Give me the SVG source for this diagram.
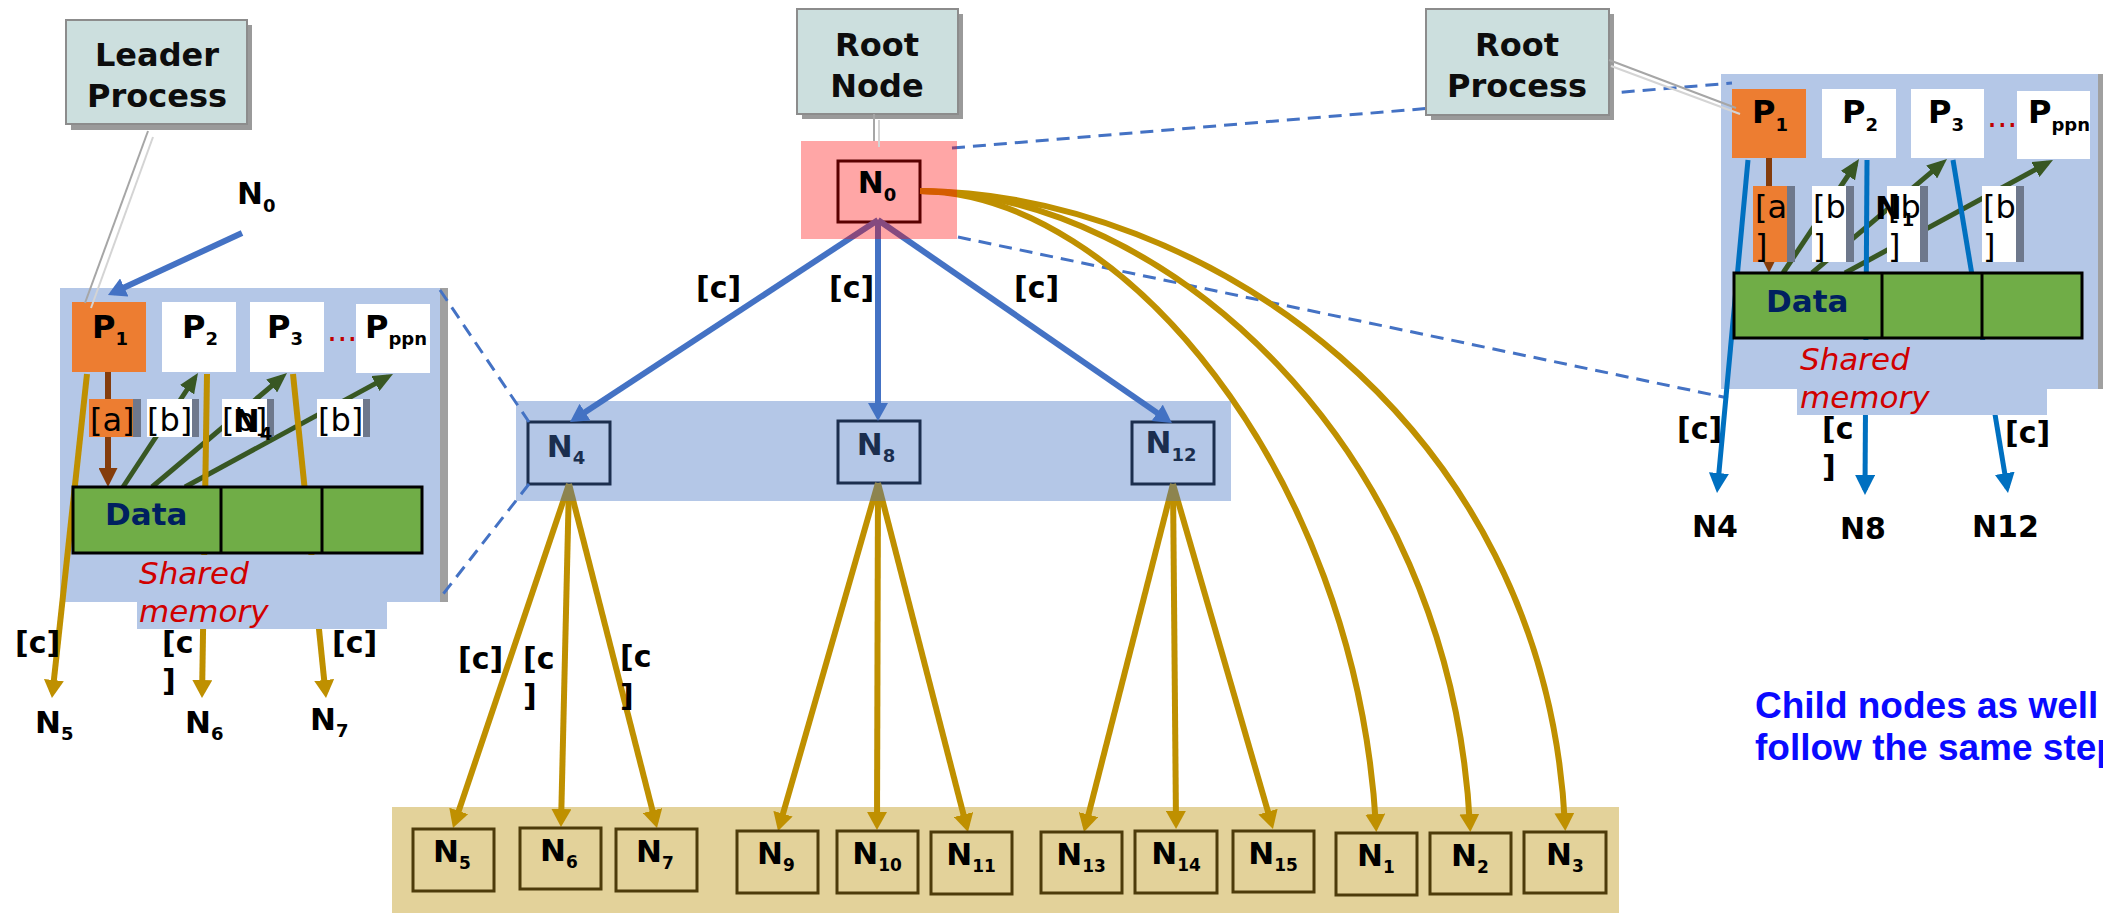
<svg xmlns="http://www.w3.org/2000/svg" width="2103" height="913" viewBox="0 0 2103 913">
<style>
.b{font-family:"DejaVu Sans",sans-serif;font-weight:bold}
.r{font-family:"DejaVu Sans",sans-serif}
.it{font-family:"DejaVu Sans",sans-serif;font-style:oblique;fill:#D00000;font-size:31px}
.lbl{font-family:"DejaVu Sans",sans-serif;font-weight:bold;font-size:32px;fill:#0D0D0D;text-anchor:middle}
.nn{font-family:"DejaVu Sans",sans-serif;font-weight:bold;font-size:31px;fill:#000}
.c{font-family:"DejaVu Sans",sans-serif;font-weight:bold;font-size:30px;fill:#000}
.pt{font-family:"DejaVu Sans",sans-serif;font-weight:bold;font-size:32px;fill:#000}
.ab{font-family:"DejaVu Sans",sans-serif;font-size:32px;fill:#000}
.callbox{fill:#CCDFDE;stroke:#8C8C8C;stroke-width:2}
.shadow{fill:#9A9A9A}
.pbox{fill:#FFFFFF}
.porange{fill:#ED7D31}
.strip{fill:#6E788C}
.data{fill:#70AD47;stroke:#000;stroke-width:3}
.gold{stroke:#BF9000;stroke-width:6;fill:none;marker-end:url(#ag)}
.blue{stroke:#4472C4;stroke-width:6;fill:none;marker-end:url(#ab)}
.rblue{stroke:#0070C0;stroke-width:5;fill:none;marker-end:url(#ar)}
.green{stroke:#385723;stroke-width:5;fill:none;marker-end:url(#agr)}
.brown{stroke:#843C0C;stroke-width:6;fill:none;marker-end:url(#abr)}
.dash{stroke:#4472C4;stroke-width:3;fill:none;stroke-dasharray:13 8}
.bbox{fill:none;stroke:#4D3B0A;stroke-width:3}
.call1{stroke:#A6A6A6;stroke-width:2}
.call2{stroke:#D4D4D4;stroke-width:2}
</style>
<defs>
<marker id="ag" viewBox="0 0 18 20" refX="12" refY="10" markerWidth="18" markerHeight="20" markerUnits="userSpaceOnUse" orient="auto"><path d="M0,0 L18,10 L0,20 z" fill="#BF9000"/></marker>
<marker id="ab" viewBox="0 0 18 20" refX="12" refY="10" markerWidth="18" markerHeight="20" markerUnits="userSpaceOnUse" orient="auto"><path d="M0,0 L18,10 L0,20 z" fill="#4472C4"/></marker>
<marker id="ar" viewBox="0 0 20 20" refX="15" refY="10" markerWidth="20" markerHeight="20" markerUnits="userSpaceOnUse" orient="auto"><path d="M0,0 L20,10 L0,20 z" fill="#0070C0"/></marker>
<marker id="agr" viewBox="0 0 20 17" refX="14" refY="8.5" markerWidth="20" markerHeight="17" markerUnits="userSpaceOnUse" orient="auto"><path d="M0,0 L20,8.5 L0,17 z" fill="#385723"/></marker>
<marker id="abr" viewBox="0 0 19 19" refX="13" refY="9.5" markerWidth="19" markerHeight="19" markerUnits="userSpaceOnUse" orient="auto"><path d="M0,0 L19,9.5 L0,19 z" fill="#843C0C"/></marker>
</defs>
<rect x="0" y="0" width="2103" height="913" fill="#FFFFFF"/>

<!-- backgrounds -->
<g id="leader-panel-bg">
<rect x="60" y="288" width="380" height="314" fill="#B4C7E7"/>
<rect x="440" y="288" width="8" height="314" fill="#A0A0A0"/>
</g>
<g id="root-panel-bg">
<rect x="1721" y="74" width="377" height="315" fill="#B4C7E7"/>
<rect x="2098" y="74" width="5" height="315" fill="#A0A0A0"/>
</g>
<g id="leaf-band">
<rect x="392" y="807" width="1227" height="106" fill="#E3D29A"/>
</g>

<!-- nodes under overlays -->
<g id="node-N0-box">
<rect x="838" y="161" width="82" height="61" fill="none" stroke="#000" stroke-width="3"/>
</g>
<g id="node-N4">
<rect x="528" y="422" width="82" height="62" fill="#FFFFFF" stroke="#000" stroke-width="3"/>
<text class="nn" x="566" y="457" text-anchor="middle">N<tspan font-size="18" dy="7">4</tspan></text>
</g>
<g id="node-N8">
<rect x="838" y="421" width="82" height="62" fill="#FFFFFF" stroke="#000" stroke-width="3"/>
<text class="nn" x="876" y="455" text-anchor="middle">N<tspan font-size="18" dy="7">8</tspan></text>
</g>
<g id="node-N12">
<rect x="1132" y="422" width="82" height="62" fill="#FFFFFF" stroke="#000" stroke-width="3"/>
<text class="nn" x="1171" y="453" text-anchor="middle">N<tspan font-size="18" dy="8">12</tspan></text>
</g>

<!-- connectors -->
<g id="connectors">
<line class="dash" x1="440" y1="290" x2="529" y2="422"/>
<line class="dash" x1="529" y1="484" x2="440" y2="598"/>
<line class="dash" x1="952" y1="148" x2="1732" y2="83"/>
<line class="dash" x1="958" y1="237" x2="1728" y2="398"/>

<line class="blue" x1="242" y1="233" x2="113.4" y2="292.5"/>
<line class="brown" x1="108" y1="372" x2="108" y2="481"/>
<line class="green" x1="123" y1="487" x2="194.7" y2="378"/>
<line class="green" x1="152" y1="487" x2="282.4" y2="376.9"/>
<line class="green" x1="185" y1="487" x2="387.7" y2="376.9"/>
<line class="gold" x1="87" y1="374" x2="52.6" y2="692"/>
<line class="gold" x1="207" y1="374" x2="202.1" y2="692"/>
<line class="gold" x1="293" y1="374" x2="325.4" y2="692"/>

<line class="blue" x1="878" y1="220" x2="575" y2="418.7"/>
<line class="blue" x1="878" y1="220" x2="878" y2="415"/>
<line class="blue" x1="878" y1="220" x2="1167" y2="419.6"/>

<line class="gold" x1="569" y1="484" x2="454.9" y2="822.3"/>
<line class="gold" x1="569" y1="484" x2="561.1" y2="821"/>
<line class="gold" x1="569" y1="484" x2="655.5" y2="822.2"/>
<line class="gold" x1="878" y1="483" x2="779.7" y2="825.2"/>
<line class="gold" x1="878" y1="483" x2="877" y2="824"/>
<line class="gold" x1="878" y1="483" x2="966.5" y2="826.2"/>
<line class="gold" x1="1173" y1="484" x2="1085.5" y2="826.2"/>
<line class="gold" x1="1173" y1="484" x2="1176" y2="823"/>
<line class="gold" x1="1173" y1="484" x2="1271.3" y2="823.2"/>

<path class="gold" d="M920,191 C1120,193 1355,470 1376,826"/>
<path class="gold" d="M920,191 C1160,193 1450,440 1470,826"/>
<path class="gold" d="M920,191 C1200,193 1545,420 1565,825"/>

<line class="brown" x1="1769" y1="158" x2="1769" y2="267"/>
<line class="green" x1="1783" y1="273" x2="1855.7" y2="164"/>
<line class="green" x1="1812" y1="273" x2="1942.4" y2="162.9"/>
<line class="green" x1="1845" y1="273" x2="2047.7" y2="162.9"/>
<line class="rblue" x1="1748" y1="160" x2="1717.5" y2="488"/>
<line class="rblue" x1="1867" y1="160" x2="1865" y2="490"/>
<line class="rblue" x1="1953" y1="160" x2="2007.2" y2="488.1"/>
</g>

<!-- overlays -->
<g id="root-node-highlight">
<rect x="801" y="141" width="156" height="98" fill="#FF0000" fill-opacity="0.35"/>
</g>
<g id="node-N0">
<text class="nn" x="877" y="193" text-anchor="middle">N<tspan font-size="18" dy="8">0</tspan></text>
</g>
<g id="level1-band">
<rect x="516" y="401" width="715" height="100" fill="#4472C4" fill-opacity="0.4"/>
</g>

<!-- leader panel foreground -->
<g id="leader-panel">
<rect class="data" x="73" y="487" width="349" height="66"/>
<line x1="221" y1="487" x2="221" y2="553" stroke="#000" stroke-width="3"/>
<line x1="322" y1="487" x2="322" y2="553" stroke="#000" stroke-width="3"/>
<text class="b" x="105" y="525" font-size="31" fill="#002060">Data</text>
<rect x="137" y="555" width="250" height="74" fill="#B4C7E7"/>
<text class="it" x="139" y="584">Shared</text>
<text class="it" x="139" y="622">memory</text>
<rect class="porange" x="72" y="302" width="74" height="70"/>
<rect class="pbox" x="162" y="302" width="74" height="70"/>
<rect class="pbox" x="250" y="302" width="74" height="70"/>
<rect class="pbox" x="356" y="304" width="74" height="69"/>
<text class="pt" x="92" y="338">P<tspan font-size="18" dy="7">1</tspan></text>
<text class="pt" x="182" y="338">P<tspan font-size="18" dy="7">2</tspan></text>
<text class="pt" x="267" y="338">P<tspan font-size="18" dy="7">3</tspan></text>
<text class="pt" x="365" y="338">P<tspan font-size="18" dy="7">ppn</tspan></text>
<text class="r" x="327" y="341" font-size="32" fill="#C00000">...</text>
<rect class="porange" x="89" y="399" width="44" height="38"/>
<rect class="strip" x="133" y="399" width="8" height="38"/>
<rect class="pbox" x="147" y="399" width="45" height="38"/>
<rect class="strip" x="192" y="399" width="7" height="38"/>
<rect class="pbox" x="222" y="399" width="45" height="38"/>
<rect class="strip" x="267" y="399" width="7" height="38"/>
<rect class="pbox" x="317" y="399" width="46" height="38"/>
<rect class="strip" x="363" y="399" width="7" height="38"/>
<text class="ab" x="90" y="431">[a]</text>
<text class="ab" x="147" y="431">[b]</text>
<text class="ab" x="222" y="431">[b]</text>
<text class="pt" x="233" y="432">N<tspan font-size="18" dy="8">4</tspan></text>
<text class="ab" x="318" y="431">[b]</text>
</g>

<!-- root panel foreground -->
<g id="root-panel">
<rect class="data" x="1734" y="273" width="348" height="65"/>
<line x1="1882" y1="273" x2="1882" y2="338" stroke="#000" stroke-width="3"/>
<line x1="1982" y1="273" x2="1982" y2="338" stroke="#000" stroke-width="3"/>
<text class="b" x="1766" y="312" font-size="31" fill="#002060">Data</text>
<rect x="1797" y="340" width="250" height="75" fill="#B4C7E7"/>
<text class="it" x="1800" y="370">Shared</text>
<text class="it" x="1800" y="408">memory</text>
<rect class="porange" x="1732" y="89" width="74" height="69"/>
<rect class="pbox" x="1822" y="89" width="74" height="69"/>
<rect class="pbox" x="1911" y="89" width="73" height="69"/>
<rect class="pbox" x="2017" y="91" width="73" height="68"/>
<text class="pt" x="1752" y="123">P<tspan font-size="18" dy="8">1</tspan></text>
<text class="pt" x="1842" y="123">P<tspan font-size="18" dy="8">2</tspan></text>
<text class="pt" x="1928" y="123">P<tspan font-size="18" dy="8">3</tspan></text>
<text class="pt" x="2028" y="123">P<tspan font-size="18" dy="8">ppn</tspan></text>
<text class="r" x="1987" y="127" font-size="32" fill="#C00000">...</text>
<rect class="porange" x="1753" y="186" width="34" height="76"/>
<rect class="strip" x="1787" y="186" width="8" height="76"/>
<rect class="pbox" x="1812" y="186" width="34" height="76"/>
<rect class="strip" x="1846" y="186" width="8" height="76"/>
<rect class="pbox" x="1887" y="186" width="33" height="76"/>
<rect class="strip" x="1920" y="186" width="8" height="76"/>
<rect class="pbox" x="1982" y="186" width="34" height="76"/>
<rect class="strip" x="2016" y="186" width="8" height="76"/>
<text class="ab" x="1755" y="218">[a</text>
<text class="ab" x="1755" y="257">]</text>
<text class="ab" x="1813" y="218">[b</text>
<text class="ab" x="1813" y="257">]</text>
<text class="ab" x="1888" y="218">[b</text>
<text class="ab" x="1888" y="257">]</text>
<text class="pt" x="1875" y="219">N<tspan font-size="18" dy="7">1</tspan></text>
<text class="ab" x="1983" y="218">[b</text>
<text class="ab" x="1983" y="257">]</text>
</g>

<!-- callout labels -->
<g id="leader-process-label">
<rect class="shadow" x="71" y="25" width="181" height="105"/>
<rect class="callbox" x="66" y="20" width="181" height="104"/>
<text class="lbl" x="157" y="66">Leader</text>
<text class="lbl" x="157" y="107">Process</text>
</g>
<g id="root-node-label">
<rect class="shadow" x="802" y="14" width="161" height="105"/>
<rect class="callbox" x="797" y="9" width="161" height="105"/>
<text class="lbl" x="877" y="56">Root</text>
<text class="lbl" x="877" y="97">Node</text>
</g>
<g id="root-process-label">
<rect class="shadow" x="1431" y="14" width="183" height="106"/>
<rect class="callbox" x="1426" y="9" width="183" height="106"/>
<text class="lbl" x="1517" y="56">Root</text>
<text class="lbl" x="1517" y="97">Process</text>
</g>
<g id="callout-lines">
<line class="call1" x1="148" y1="131" x2="85" y2="303"/>
<line class="call2" x1="153" y1="137" x2="91" y2="308"/>
<line class="call1" x1="874" y1="114" x2="874" y2="141"/>
<line class="call2" x1="879" y1="120" x2="879" y2="147"/>
<line class="call1" x1="1609" y1="60" x2="1736" y2="108"/>
<line class="call2" x1="1611" y1="66" x2="1740" y2="114"/>
</g>

<!-- leaf nodes -->
<g id="node-N5"><rect class="bbox" x="413" y="829" width="81" height="62"/><text class="nn" x="452" y="862" text-anchor="middle">N<tspan font-size="17" dy="7">5</tspan></text></g>
<g id="node-N6"><rect class="bbox" x="520" y="828" width="81" height="61"/><text class="nn" x="559" y="861" text-anchor="middle">N<tspan font-size="17" dy="7">6</tspan></text></g>
<g id="node-N7"><rect class="bbox" x="616" y="829" width="81" height="62"/><text class="nn" x="655" y="862" text-anchor="middle">N<tspan font-size="17" dy="7">7</tspan></text></g>
<g id="node-N9"><rect class="bbox" x="737" y="831" width="81" height="62"/><text class="nn" x="776" y="864" text-anchor="middle">N<tspan font-size="17" dy="7">9</tspan></text></g>
<g id="node-N10"><rect class="bbox" x="837" y="831" width="81" height="62"/><text class="nn" x="877" y="864" text-anchor="middle">N<tspan font-size="17" dy="7">10</tspan></text></g>
<g id="node-N11"><rect class="bbox" x="931" y="832" width="81" height="62"/><text class="nn" x="971" y="865" text-anchor="middle">N<tspan font-size="17" dy="7">11</tspan></text></g>
<g id="node-N13"><rect class="bbox" x="1041" y="832" width="81" height="61"/><text class="nn" x="1081" y="865" text-anchor="middle">N<tspan font-size="17" dy="7">13</tspan></text></g>
<g id="node-N14"><rect class="bbox" x="1135" y="831" width="82" height="62"/><text class="nn" x="1176" y="864" text-anchor="middle">N<tspan font-size="17" dy="7">14</tspan></text></g>
<g id="node-N15"><rect class="bbox" x="1233" y="831" width="81" height="61"/><text class="nn" x="1273" y="864" text-anchor="middle">N<tspan font-size="17" dy="7">15</tspan></text></g>
<g id="node-N1"><rect class="bbox" x="1336" y="833" width="81" height="62"/><text class="nn" x="1376" y="866" text-anchor="middle">N<tspan font-size="17" dy="7">1</tspan></text></g>
<g id="node-N2"><rect class="bbox" x="1430" y="833" width="81" height="61"/><text class="nn" x="1470" y="866" text-anchor="middle">N<tspan font-size="17" dy="7">2</tspan></text></g>
<g id="node-N3"><rect class="bbox" x="1524" y="832" width="82" height="61"/><text class="nn" x="1565" y="865" text-anchor="middle">N<tspan font-size="17" dy="7">3</tspan></text></g>

<!-- free labels -->
<g id="labels">
<text class="nn" x="237" y="204">N<tspan font-size="18" dy="8">0</tspan></text>
<text class="nn" x="35" y="733">N<tspan font-size="18" dy="7">5</tspan></text>
<text class="nn" x="185" y="733">N<tspan font-size="18" dy="7">6</tspan></text>
<text class="nn" x="310" y="730">N<tspan font-size="18" dy="7">7</tspan></text>
<text class="c" x="15" y="653">[c]</text>
<text class="c" x="162" y="653">[c</text>
<text class="c" x="162" y="691">]</text>
<text class="c" x="332" y="653">[c]</text>
<text class="c" x="696" y="298">[c]</text>
<text class="c" x="829" y="298">[c]</text>
<text class="c" x="1014" y="298">[c]</text>
<text class="c" x="458" y="669">[c]</text>
<text class="c" x="523" y="669">[c</text>
<text class="c" x="523" y="706">]</text>
<text class="c" x="620" y="667">[c</text>
<text class="c" x="620" y="706">]</text>
<text class="c" x="1677" y="439">[c]</text>
<text class="c" x="1822" y="439">[c</text>
<text class="c" x="1822" y="477">]</text>
<text class="c" x="2005" y="443">[c]</text>
<text class="c" x="1692" y="537">N4</text>
<text class="c" x="1840" y="539">N8</text>
<text class="c" x="1972" y="537">N12</text>
<text x="1755" y="718" font-family="'Liberation Sans',Arial,sans-serif" font-weight="bold" font-size="37" fill="#0A0AFF">Child nodes as well</text>
<text x="1755" y="760" font-family="'Liberation Sans',Arial,sans-serif" font-weight="bold" font-size="37" fill="#0A0AFF">follow the same steps</text>
</g>
</svg>
